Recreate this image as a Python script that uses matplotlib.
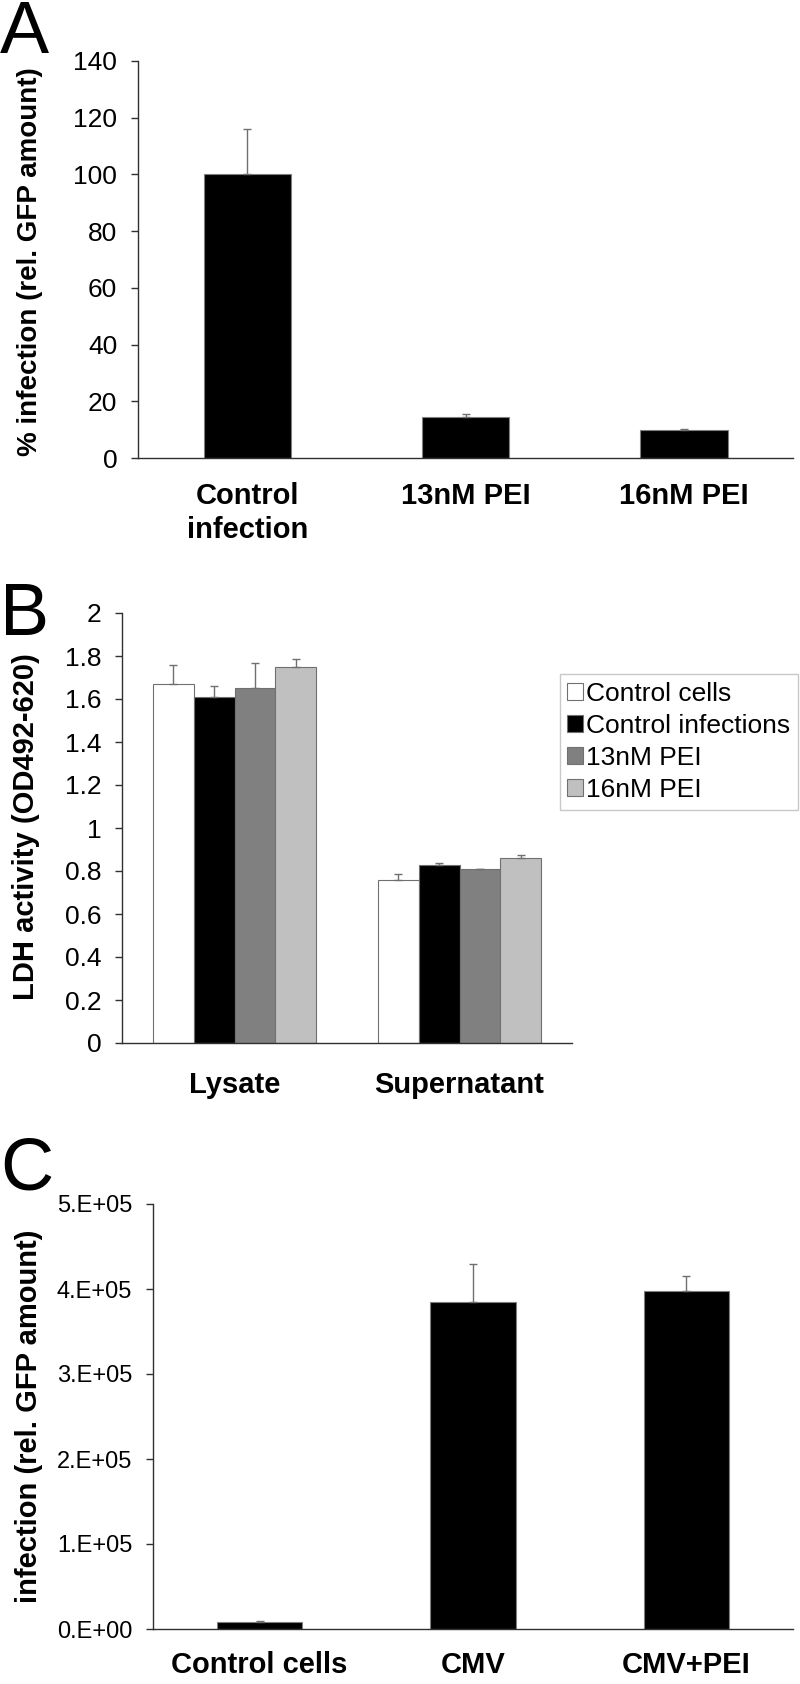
import matplotlib
matplotlib.use("Agg")
import matplotlib.pyplot as plt
import numpy as np

plt.rcParams['font.family'] = ['Liberation Sans', 'DejaVu Sans']

# panel A
a_labels = ['Control\ninfection', '13nM PEI', '16nM PEI']
a_values = [100, 14.5, 10.0]
a_err = [16, 0.9, 0.3]

# panel B
b_groups = ['Lysate', 'Supernatant']
b_series = ['Control cells', 'Control infections', '13nM PEI', '16nM PEI']
b_values = [[1.67, 0.758], [1.607, 0.826], [1.651, 0.807], [1.75, 0.859]]
b_err = [[0.09, 0.029], [0.052, 0.009], [0.116, 0.004], [0.036, 0.015]]
b_colors = ['white', 'black', '#808080', '#c0c0c0']

# panel C
c_labels = ['Control cells', 'CMV', 'CMV+PEI']
c_values = [7900, 384800, 397300]
c_err = [2000, 45000, 17700]
c_ticks = [0, 1e5, 2e5, 3e5, 4e5, 5e5]
c_ticklabels = ['0.E+00', '1.E+05', '2.E+05', '3.E+05', '4.E+05', '5.E+05']

W, H = 800, 1684
fig = plt.figure(figsize=(W / 100, H / 100), dpi=100)


def px_axes(left, top, right, bottom):
    return fig.add_axes([left / W, 1 - bottom / H, (right - left) / W, (bottom - top) / H])


def style(ax, tick_size, xpad, xsize=21):
    for s in ['top', 'right']:
        ax.spines[s].set_visible(False)
    for s in ['left', 'bottom']:
        ax.spines[s].set_color('#303030')
        ax.spines[s].set_linewidth(1.0)
    ax.tick_params(axis='y', direction='out', length=5, width=1, color='#303030',
                   labelsize=tick_size, pad=10)
    ax.tick_params(axis='x', length=0, pad=xpad)
    for lab in ax.get_xticklabels():
        lab.set_fontweight('bold')
        lab.set_fontsize(xsize)


err_kw = dict(ecolor='#707070', elinewidth=1.0, capsize=3, capthick=1.0)

# ---- A ----
axA = px_axes(138, 61, 793, 458)
x = np.arange(len(a_labels))
axA.bar(x, a_values, 0.40, color='black', edgecolor='#808080', linewidth=0.8,
        yerr=[np.zeros(len(a_err)), a_err], error_kw=err_kw)
axA.set_xlim(-0.5, 2.5)
axA.set_ylim(0, 140)
axA.set_yticks(range(0, 141, 20))
axA.set_xticks(x)
axA.set_xticklabels(a_labels, linespacing=1.3)
style(axA, 19, 17)
fig.text(0.037, 1 - 262 / H, '% infection (rel. GFP amount)', rotation=90,
         ha='center', va='center', fontsize=20, fontweight='bold')
fig.text(0.0, 1 - 53 / H, 'A', fontsize=53, va='baseline', ha='left')

# ---- B ----
axB = px_axes(122, 613, 572, 1043)
xb = np.arange(len(b_groups))
w = 0.181
for i, name in enumerate(b_series):
    axB.bar(xb + (i - 1.5) * w, b_values[i], w, color=b_colors[i], edgecolor='#707070',
            linewidth=0.8, label=name,
            yerr=[np.zeros(len(b_groups)), b_err[i]], error_kw=err_kw)
axB.set_xlim(-0.5, 1.5)
axB.set_ylim(0, 2)
axB.set_yticks(np.arange(0, 2.01, 0.2))
axB.set_yticklabels(['0', '0.2', '0.4', '0.6', '0.8', '1', '1.2', '1.4', '1.6', '1.8', '2'])
axB.set_xticks(xb)
axB.set_xticklabels(b_groups)
style(axB, 19, 20)
leg = axB.legend(loc='upper right', bbox_to_anchor=(798 / W, 1 - 674 / H),
                 bbox_transform=fig.transFigure, borderaxespad=0, fontsize=19,
                 handlelength=0.6, handleheight=0.6, handletextpad=0.1,
                 labelspacing=0.3, borderpad=0.3, fancybox=False, framealpha=1)
leg.get_frame().set_edgecolor('#c8c8c8')
leg.get_frame().set_linewidth(1.0)
fig.text(0.0325, 1 - 826.5 / H, 'LDH activity (OD492-620)', rotation=90,
         ha='center', va='center', fontsize=21, fontweight='bold')
fig.text(0.0, 1 - 635 / H, 'B', fontsize=53, va='baseline', ha='left')

# ---- C ----
axC = px_axes(153, 1204, 793, 1629)
xc = np.arange(len(c_labels))
axC.bar(xc, c_values, 0.40, color='black', edgecolor='#808080', linewidth=0.8,
        yerr=[np.zeros(len(c_err)), c_err], error_kw=err_kw)
axC.set_xlim(-0.5, 2.5)
axC.set_ylim(0, 5e5)
axC.set_yticks(c_ticks)
axC.set_yticklabels(c_ticklabels)
axC.set_xticks(xc)
axC.set_xticklabels(c_labels)
style(axC, 17, 16)
fig.text(0.036, 1 - 1416.5 / H, 'infection (rel. GFP amount)', rotation=90,
         ha='center', va='center', fontsize=21, fontweight='bold')
fig.text(0.0, 1 - 1190 / H, 'C', fontsize=53, va='baseline', ha='left')

fig.savefig('out.png', dpi=100)
